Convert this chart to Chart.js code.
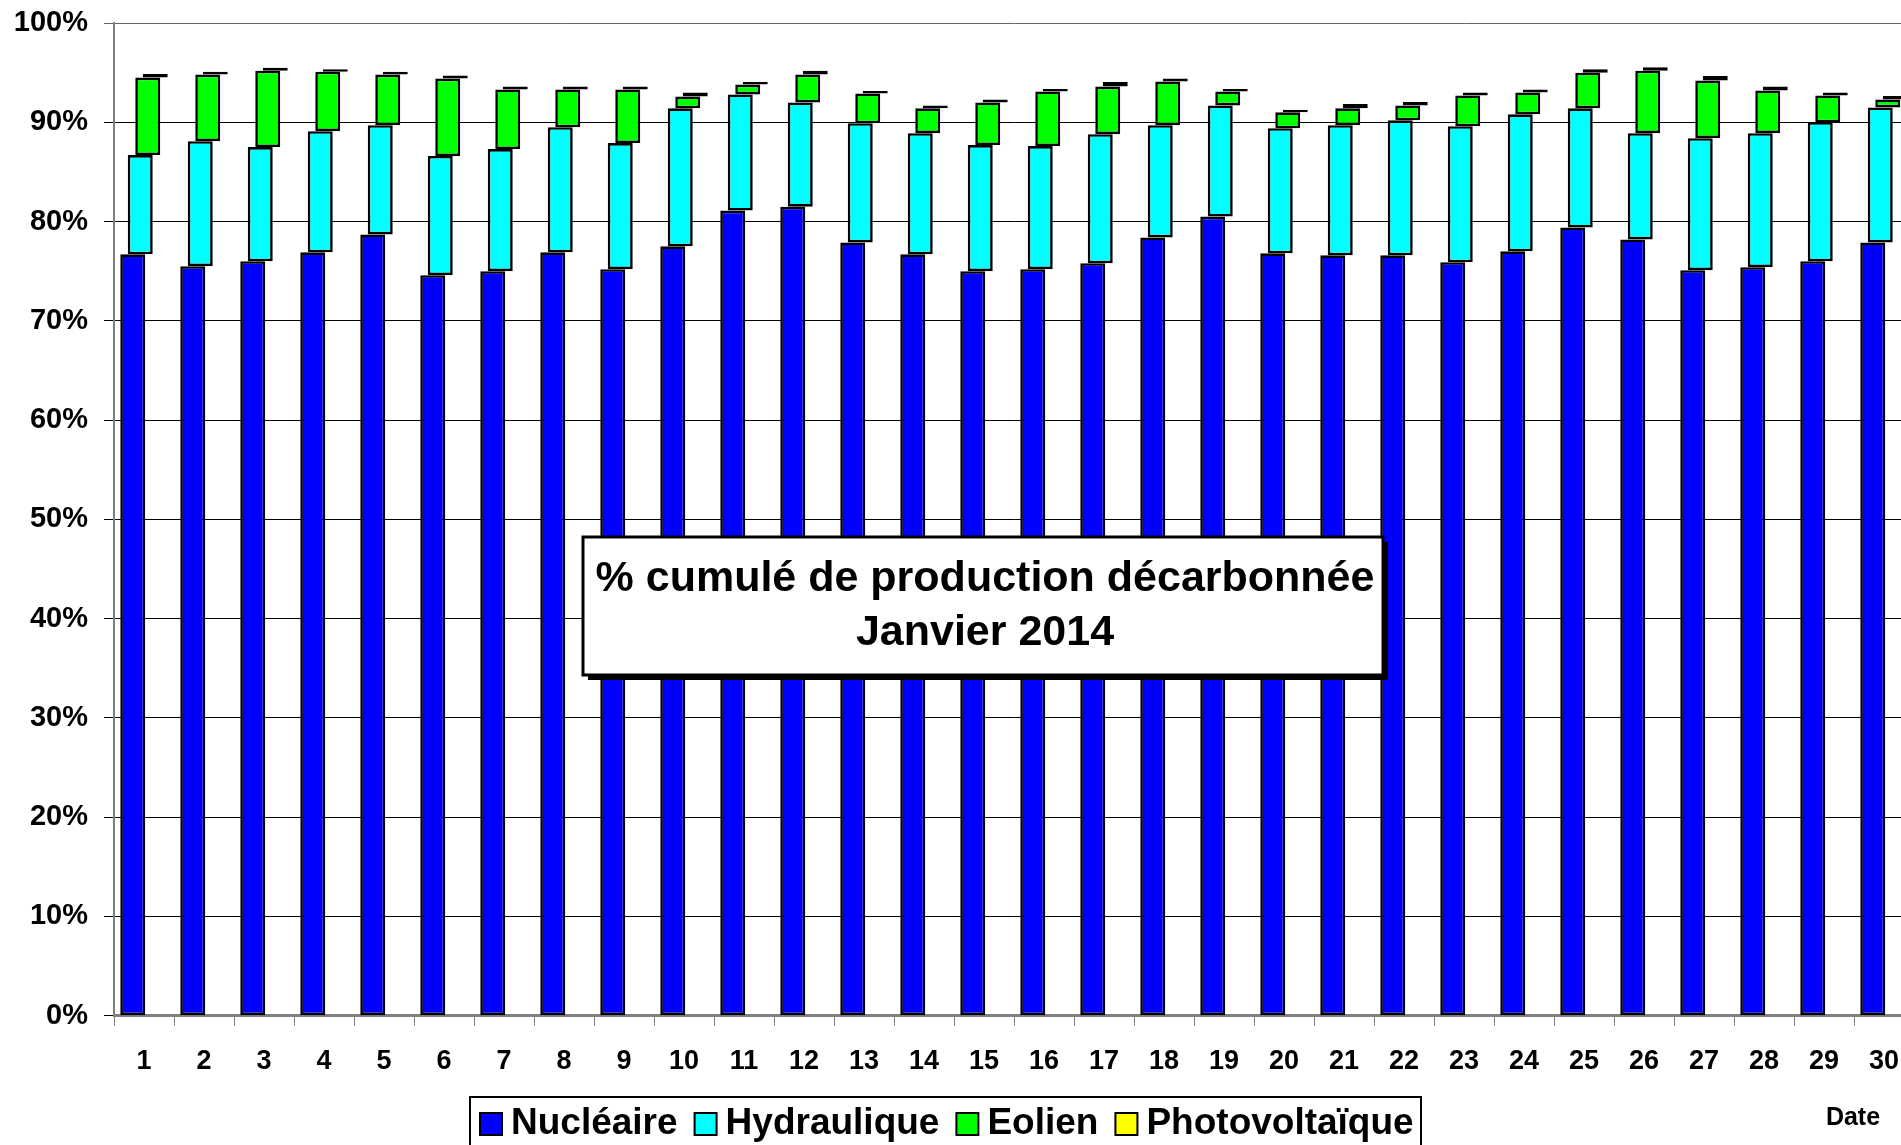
<!DOCTYPE html>
<html lang="fr">
<head>
    <meta charset="UTF-8">
    <title>% cumulé de production décarbonnée - Janvier 2014</title>
    <style>
        html, body { margin: 0; padding: 0; overflow: hidden; background: #fff; }
        canvas { display: block; }
    </style>
</head>
<body>

    <!-- the plot runs a little past the right edge of the window, like the original -->
    <canvas id="myChart" width="1914" height="1145"></canvas>

    <script src="https://cdn.jsdelivr.net/npm/chart.js@4.4.1/dist/chart.umd.min.js"></script>
    <script>
        // share of each source in daily production (%), January 2014
        var days = ['1','2','3','4','5','6','7','8','9','10','11','12','13','14','15',
                    '16','17','18','19','20','21','22','23','24','25','26','27','28','29','30'];

        var nucleaire = [76.7, 75.5, 76.0, 76.9, 78.7, 74.6, 75.0, 76.9, 75.2, 77.5,
                         81.1, 81.5, 77.9, 76.7, 75.0, 75.2, 75.8, 78.4, 80.5, 76.8,
                         76.6, 76.6, 75.9, 77.0, 79.4, 78.2, 75.1, 75.4, 76.0, 77.9];

        var hydraulique = [10.0, 12.6, 11.5, 12.2, 11.0, 12.0, 12.3, 12.6, 12.7, 13.9,
                           11.7, 10.5, 12.0, 12.2, 12.7, 12.4, 13.0, 11.3, 11.2, 12.6,
                           13.1, 13.6, 13.7, 13.8, 12.0, 10.7, 13.3, 13.5, 14.0, 13.6];

        var eolien = [7.8, 6.7, 7.7, 6.0, 5.1, 7.8, 6.0, 3.8, 5.4, 1.2,
                      1.0, 2.8, 3.0, 2.5, 4.3, 5.5, 4.8, 4.4, 1.4, 1.6,
                      1.7, 1.5, 3.1, 2.2, 3.6, 6.3, 5.8, 4.3, 2.7, 0.8];

        var photovoltaique = [0.35, 0.3, 0.3, 0.25, 0.3, 0.3, 0.3, 0.3, 0.3, 0.4,
                              0.25, 0.4, 0.25, 0.3, 0.3, 0.25, 0.45, 0.3, 0.25, 0.25,
                              0.45, 0.35, 0.3, 0.3, 0.35, 0.35, 0.45, 0.4, 0.3, 0.35];

        var seriesNames = ['Nucléaire', 'Hydraulique', 'Eolien', 'Photovoltaïque'];
        var seriesColors = ['#0000FF', '#00FFFF', '#00FF00', '#FFFF00'];

        var titleLines = ['% cumulé de production décarbonnée', 'Janvier 2014'];
        var FONT = '"Liberation Sans", Arial, sans-serif';

        // each source is a floating bar sitting on top of the previous ones
        function buildDatasets() {
            var all = [nucleaire, hydraulique, eolien, photovoltaique];
            var base = days.map(function() { return 0; });
            return all.map(function(values, k) {
                var ranges = values.map(function(v, i) {
                    var r = [base[i], base[i] + v];
                    base[i] += v;
                    return r;
                });
                return {
                    label: seriesNames[k],
                    data: ranges,
                    backgroundColor: seriesColors[k],
                    borderColor: '#000',
                    borderWidth: 2.6,
                    borderSkipped: false
                };
            });
        }

        // title box in the middle of the plot, legend box and "Date" at the bottom
        var overlayPlugin = {
            id: 'overlay',
            afterDraw: function(chart) {
                var ctx = chart.ctx;
                ctx.save();

                // title box with a drop shadow
                var bx = 583, by = 537, bw = 800, bh = 138;
                ctx.fillStyle = '#000';
                ctx.fillRect(bx + 5, by + 5, bw, bh);
                ctx.fillStyle = '#fff';
                ctx.fillRect(bx, by, bw, bh);
                ctx.lineWidth = 3;
                ctx.strokeStyle = '#000';
                ctx.strokeRect(bx, by, bw, bh);

                ctx.fillStyle = '#000';
                ctx.font = 'bold 43px ' + FONT;
                ctx.textAlign = 'center';
                ctx.textBaseline = 'middle';
                ctx.fillText(titleLines[0], bx + bw / 2 + 2, 579);
                ctx.fillText(titleLines[1], bx + bw / 2 + 2, 633);

                // legend
                ctx.fillStyle = '#fff';
                ctx.fillRect(470, 1097, 951, 70);
                ctx.lineWidth = 2;
                ctx.strokeRect(470, 1097, 951, 70);

                ctx.font = 'bold 37px ' + FONT;
                ctx.textAlign = 'left';
                var x = 480, cy = 1124;
                for (var k = 0; k < seriesNames.length; k++) {
                    ctx.fillStyle = seriesColors[k];
                    ctx.fillRect(x, cy - 11, 22, 22);
                    ctx.strokeRect(x, cy - 11, 22, 22);
                    x += 31;
                    ctx.fillStyle = '#000';
                    ctx.fillText(seriesNames[k], x, cy);
                    x += ctx.measureText(seriesNames[k]).width + 17;
                }

                ctx.font = 'bold 25px ' + FONT;
                ctx.textAlign = 'center';
                ctx.fillText('Date', 1853, 1118);

                ctx.restore();
            }
        };

        var ctx = document.getElementById('myChart').getContext('2d');
        var myChart = new Chart(ctx, {
            type: 'bar',
            data: {
                labels: days,
                datasets: buildDatasets()
            },
            options: {
                responsive: false,
                animation: false,
                layout: { padding: { top: 23, left: 0, right: 0, bottom: 0 } },
                datasets: {
                    // overlapping bars, each series shifted a little to the right
                    bar: { categoryPercentage: 0.5, barPercentage: 3.33 }
                },
                plugins: {
                    legend: { display: false },
                    tooltip: { enabled: false }
                },
                scales: {
                    x: {
                        grid: {
                            offset: true,
                            drawOnChartArea: false,
                            tickLength: 10,
                            color: '#808080'
                        },
                        border: { color: '#808080', width: 3 },
                        ticks: {
                            color: '#000',
                            font: { family: FONT, size: 27, weight: 'bold' },
                            padding: 20,
                            maxRotation: 0,
                            autoSkip: false
                        },
                        afterFit: function(scale) {
                            scale.height = 129.3;
                            scale.paddingLeft = 0;
                            scale.paddingRight = 0;
                        }
                    },
                    y: {
                        min: 0,
                        max: 100,
                        grid: {
                            color: function(c) { return c.tick && c.tick.value === 100 ? '#666' : '#000'; },
                            tickLength: 10
                        },
                        border: { color: '#808080', width: 2 },
                        ticks: {
                            stepSize: 10,
                            color: '#000',
                            font: { family: FONT, size: 29, weight: 'bold' },
                            padding: 16,
                            callback: function(v) { return v + '%'; }
                        },
                        afterFit: function(scale) {
                            scale.width = 114;
                            scale.paddingTop = 0;
                            scale.paddingBottom = 0;
                        }
                    }
                }
            },
            plugins: [overlayPlugin]
        });
    </script>

</body>
</html>
